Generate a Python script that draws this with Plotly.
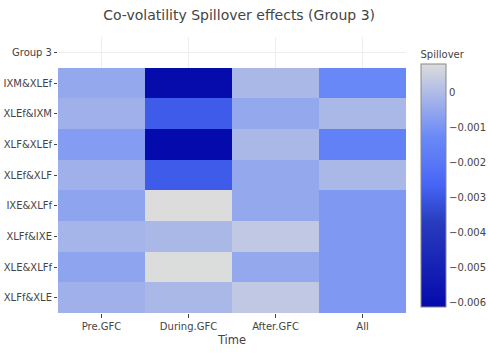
import plotly.graph_objects as go

periods = ["Pre.GFC", "During.GFC", "After.GFC", "All"]
pairs = ["Group 3", "IXM&XLEf", "XLEf&IXM", "XLF&XLEf", "XLEf&XLF",
         "IXE&XLFf", "XLFf&IXE", "XLE&XLFf", "XLFf&XLE"]

pre_gfc    = [None, -0.0005, -0.0003, -0.0008, -0.0003, -0.0006, -0.0002, -0.0006, -0.0003]
during_gfc = [None, -0.0061, -0.0029, -0.00614, -0.0029, 0.00081, -0.0001, 0.0008, -0.0001]
after_gfc  = [None, -0.0001, -0.0005, -0.0001, -0.0005, -0.0005, 0.0003, -0.0005, 0.0003]
all_period = [None, -0.0013, -0.0001, -0.0016, -0.0001, -0.0009, -0.0009, -0.0009, -0.0009]

columns = [pre_gfc, during_gfc, after_gfc, all_period]
z = [[col[i] for col in columns] for i in range(len(pairs))]

blues = [[0, "rgb(5,10,172)"], [0.35, "rgb(40,60,190)"], [0.5, "rgb(70,100,245)"],
         [0.6, "rgb(90,120,245)"], [0.7, "rgb(106,137,247)"], [1, "rgb(220,220,220)"]]

FONT = "DejaVu Sans, Verdana, sans-serif"

fig = go.Figure(go.Heatmap(
    x=periods, y=pairs, z=z, colorscale=blues,
    colorbar=dict(
        title=dict(text="Spillover", font=dict(size=10, color="#444")),
        tickfont=dict(size=10, color="#444"),
        xref="container", x=421 / 488, xanchor="left",
        y=0.0217, yanchor="bottom", len=0.938, ypad=0,
        thickness=25, xpad=0,
        outlinewidth=1, outlinecolor="#888", ticklen=0,
        dtick=0.001,
    ),
))

fig.update_layout(
    width=488, height=359,
    margin=dict(l=58, r=82, t=37, b=46),
    paper_bgcolor="white", plot_bgcolor="white",
    font=dict(family=FONT, size=10, color="#444"),
    title=dict(text="Co-volatility Spillover effects (Group 3)",
               x=0.49, xanchor="center", y=0.958, yanchor="middle",
               font=dict(size=14, color="#444")),
    xaxis=dict(title=dict(text="Time", font=dict(size=11.5), standoff=4),
               ticks="outside", ticklen=4, tickcolor="#444", automargin=False,
               showgrid=True, gridcolor="#eee", zeroline=False,
               tickfont=dict(size=10)),
    yaxis=dict(autorange="reversed", ticks="outside", ticklen=3, tickcolor="#444",
               automargin=False,
               showgrid=True, gridcolor="#eee", zeroline=False,
               tickfont=dict(size=10)),
)

fig.write_html("out.html", config={"displayModeBar": False},
               post_script="document.body.style.margin='0';")
